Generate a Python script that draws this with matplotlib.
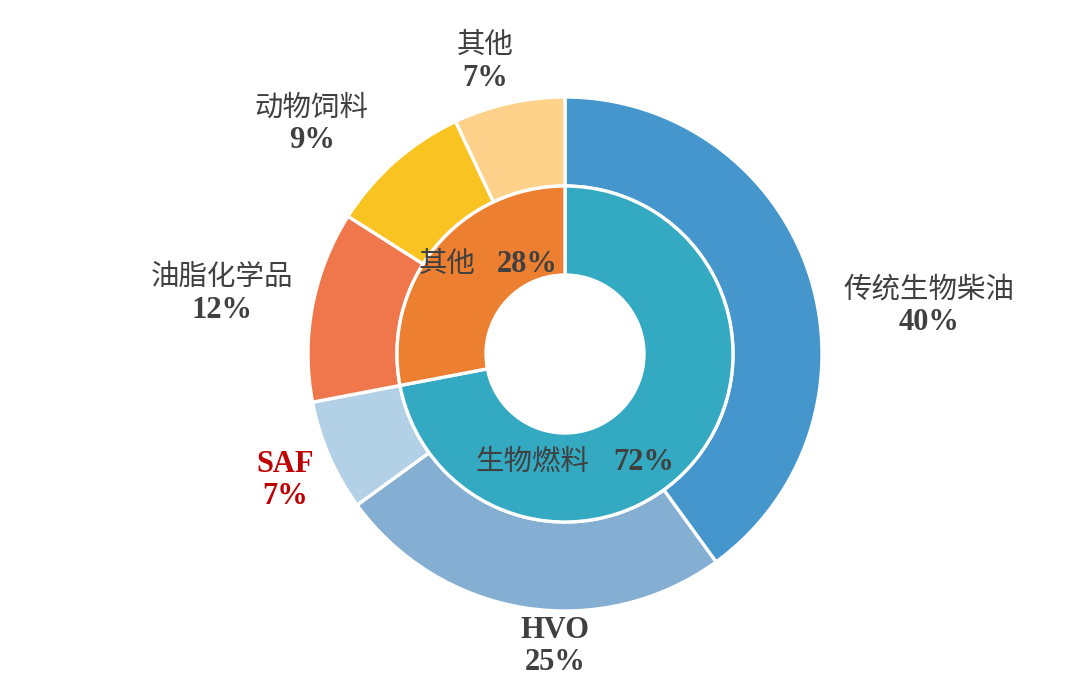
import matplotlib
matplotlib.use("Agg")
import matplotlib.pyplot as plt

# ---- data ----
outer_labels = ["传统生物柴油", "HVO", "SAF", "油脂化学品", "动物饲料", "其他"]
outer_values = [40, 25, 7, 12, 9, 7]
outer_colors = ["#4596CC", "#85AED3", "#B3D1E6", "#F0764B", "#F9C421", "#FED28A"]
inner_labels = ["生物燃料", "其他"]
inner_values = [72, 28]
inner_colors = ["#33AAC1", "#ED7F30"]

# ---- layout (pixel coords, y from top) ----
W, H = 1080, 679
cx, cy = 565, 354
r_out, r_mid, r_hole = 257, 168, 79
outer_label_pos = [(929, 290), (555, 630), (285, 464), (222, 278), (312, 108), (485, 46)]
# (right edge of name, left edge of pct, y)
inner_label_pos = [(589, 613, 463), (476, 497, 265)]

fig = plt.figure(figsize=(W / 100, H / 100), dpi=100)
ax = fig.add_axes([0, 0, 1, 1])

wp = dict(edgecolor="white", linewidth=2.4)
ax.pie(outer_values, colors=outer_colors, radius=r_out, center=(cx, H - cy),
       startangle=90, counterclock=False,
       wedgeprops=dict(width=r_out - r_mid, **wp), frame=True)
ax.pie(inner_values, colors=inner_colors, radius=r_mid, center=(cx, H - cy),
       startangle=90, counterclock=False,
       wedgeprops=dict(width=r_mid - r_hole, **wp), frame=True)
ax.set_xlim(0, W)
ax.set_ylim(0, H)
ax.set_aspect("equal")
ax.axis("off")

fam = ["Liberation Serif", "Noto Sans CJK SC"]
txt = "#404040"
fs_cn = 20.5
fs_num = 22
for lab, val, (x, y) in zip(outer_labels, outer_values, outer_label_pos):
    col = "#C00000" if lab == "SAF" else txt
    bold = lab in ("SAF", "HVO")
    ax.text(x, H - y, lab, ha="center", va="center",
            fontsize=fs_num if bold else fs_cn, color=col,
            family=fam, fontweight="bold" if bold else "normal")
    ax.text(x, H - y - 32, f"{val}%", ha="center", va="center", fontsize=fs_num,
            color=col, family=fam, fontweight="bold")

for lab, val, (xr, xl, y) in zip(inner_labels, inner_values, inner_label_pos):
    ax.text(xr, H - y, lab, ha="right", va="center", fontsize=fs_cn, color=txt, family=fam)
    ax.text(xl, H - y, f"{val}%", ha="left", va="center",
            fontsize=fs_num, color=txt, family=fam, fontweight="bold")

fig.savefig("out.png", dpi=100, facecolor="white")
